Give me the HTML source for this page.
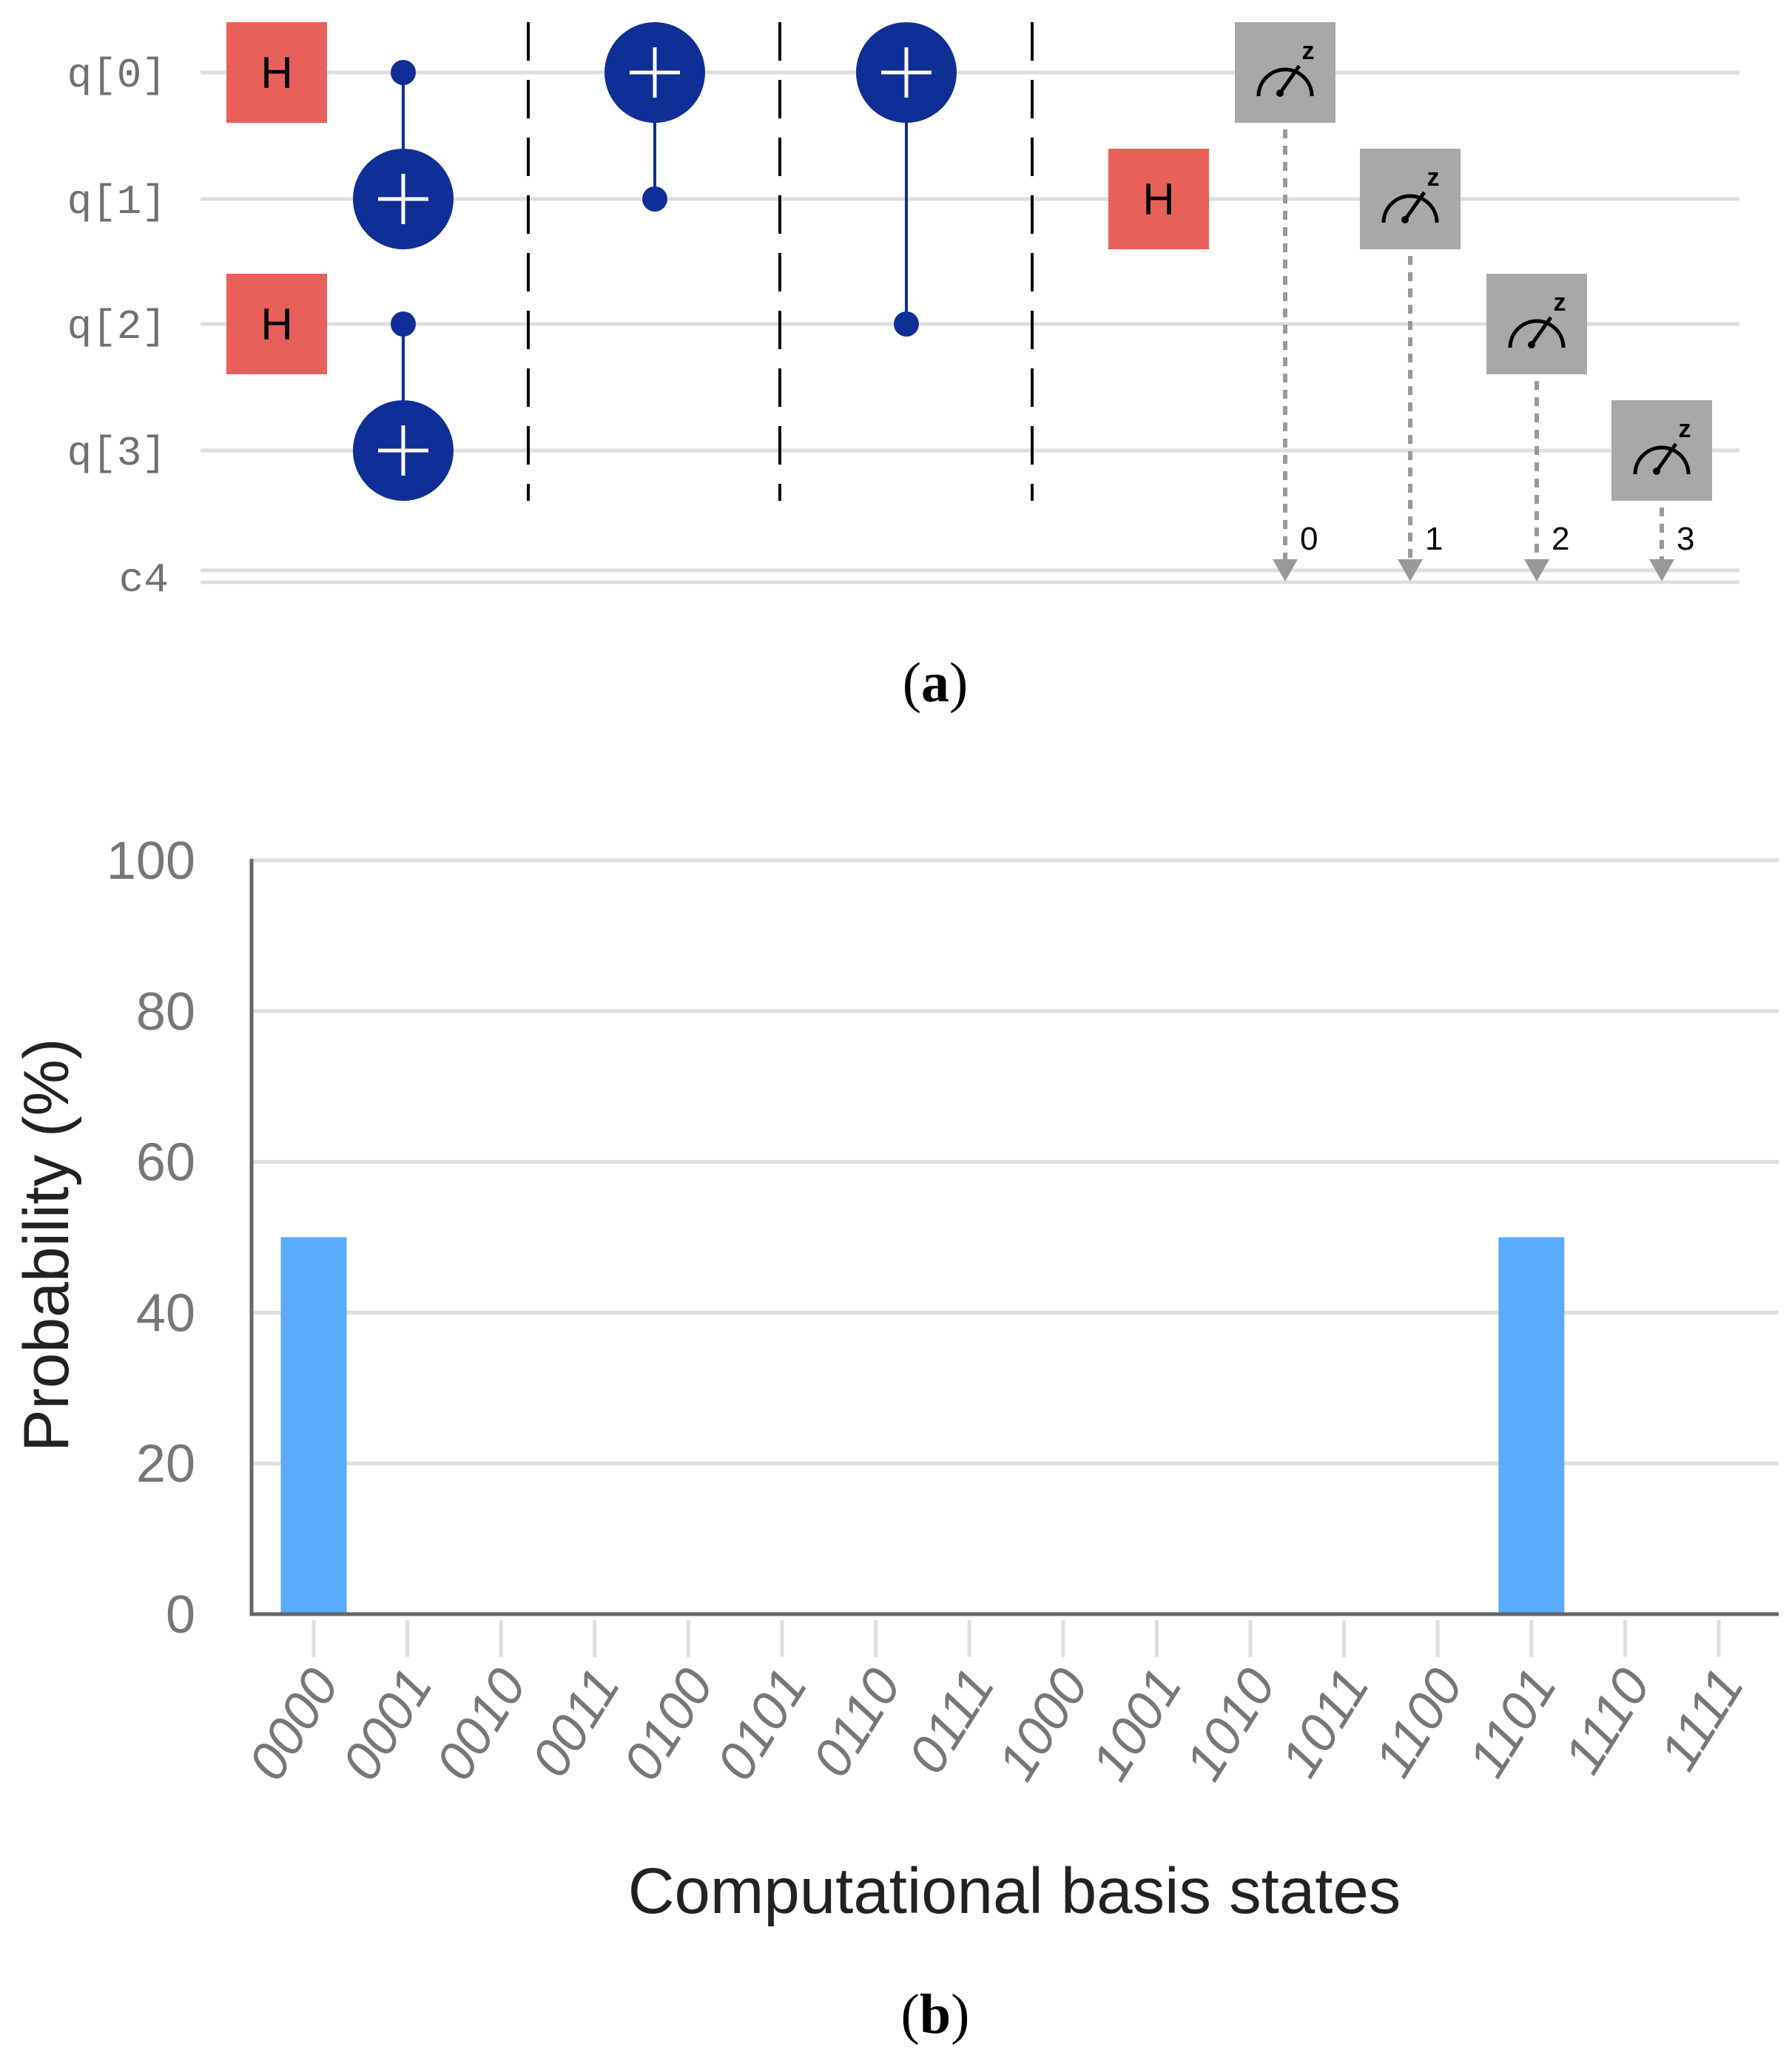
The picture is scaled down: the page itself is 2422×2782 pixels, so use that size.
<!DOCTYPE html>
<html><head><meta charset="utf-8"><style>
html,body{margin:0;padding:0;background:#fff;}
svg{display:block;}
</style></head><body>
<svg width="2422" height="2782" viewBox="0 0 2422 2782" xmlns="http://www.w3.org/2000/svg">
<g id="circuit"></g>
<text x="1264" y="948" text-anchor="middle" font-family="Liberation Serif, serif" font-size="76"><tspan>(</tspan><tspan font-weight="bold">a</tspan><tspan>)</tspan></text>
<g id="chart"></g>
<text x="1264" y="2748" text-anchor="middle" font-family="Liberation Serif, serif" font-size="76"><tspan>(</tspan><tspan font-weight="bold">b</tspan><tspan>)</tspan></text>
</svg>
<script>
const NS='http://www.w3.org/2000/svg';
function mk(parent,tag,attrs,text){const e=document.createElementNS(NS,tag);for(const k in attrs)e.setAttribute(k,attrs[k]);if(text!==undefined)e.textContent=text;parent.appendChild(e);return e;}

// ---------- Circuit ----------
const qubitLabels=['q[0]','q[1]','q[2]','q[3]'];
const wireY=[98,269,438,609];
const C=document.getElementById('circuit');
for(let i=0;i<4;i++){
  const w=mk(C,'line',{x1:271,x2:2351,y1:wireY[i],y2:wireY[i],stroke:'#dedede','stroke-width':5});
  
  
  const t=mk(C,'text',{x:225,y:wireY[i]+19,'text-anchor':'end','font-family':'Liberation Mono, monospace','font-size':56,fill:'#707070'},qubitLabels[i]);
  
  
}
[771,787].forEach(y=>{const l=mk(C,'line',{x1:271,x2:2351,y1:y,y2:y,stroke:'#dedede','stroke-width':5});
  
  });
const cl=mk(C,'text',{x:228,y:799,'text-anchor':'end','font-family':'Liberation Mono, monospace','font-size':56,fill:'#707070'},'c4');



function hgate(cx,q){const g=mk(C,'g',{});
  
  
  mk(g,'rect',{x:cx-68,y:wireY[q]-68,width:136,height:136,fill:'#e8605a'});
  mk(g,'text',{x:cx,y:wireY[q]+21,'text-anchor':'middle','font-family':'Liberation Sans, sans-serif','font-size':60,fill:'#000'},'H');}
function cnot(cx,c,t){const g=mk(C,'g',{});
  
  
  mk(g,'line',{x1:cx,x2:cx,y1:wireY[c],y2:wireY[t],stroke:'#0f2e96','stroke-width':4});
  mk(g,'circle',{cx:cx,cy:wireY[c],r:17,fill:'#0f2e96'});
  mk(g,'circle',{cx:cx,cy:wireY[t],r:68,fill:'#0f2e96'});
  mk(g,'line',{x1:cx-34,x2:cx+34,y1:wireY[t],y2:wireY[t],stroke:'#fff','stroke-width':5});
  mk(g,'line',{x1:cx,x2:cx,y1:wireY[t]-34,y2:wireY[t]+34,stroke:'#fff','stroke-width':5});}
hgate(374,0);hgate(374,2);hgate(1566,1);
cnot(545,0,1);cnot(545,2,3);cnot(885,1,0);cnot(1225,2,0);
[714,1054,1395].forEach(x=>{const b=mk(C,'line',{x1:x,x2:x,y1:30,y2:677,stroke:'#000','stroke-width':4,'stroke-dasharray':'52 26'});
  
  });
const measX=[1737,1906,2077,2246];
for(let q=0;q<4;q++){const cx=measX[q],cy=wireY[q];const g=mk(C,'g',{});
  
  
  mk(g,'rect',{x:cx-68,y:cy-68,width:136,height:136,fill:'#a8a8a8'});
  mk(g,'path',{d:`M${cx-36},${cy+32} A36,36 0 0 1 ${cx+36},${cy+32}`,fill:'none',stroke:'#000','stroke-width':5});
  mk(g,'line',{x1:cx-7,y1:cy+28,x2:cx+19,y2:cy-9,stroke:'#000','stroke-width':5});
  mk(g,'circle',{cx:cx-7,cy:cy+28,r:5,fill:'#000'});
  mk(g,'text',{x:cx+31,y:cy-18,'text-anchor':'middle','font-family':'Liberation Sans, sans-serif','font-size':34,'font-weight':'bold',fill:'#000'},'z');
  mk(g,'line',{x1:cx,x2:cx,y1:cy+77,y2:756,stroke:'#999','stroke-width':6,'stroke-dasharray':'12 10'});
  mk(g,'polygon',{points:`${cx-17},${756} ${cx+17},${756} ${cx},${786}`,fill:'#999'});
  mk(g,'text',{x:cx+20,y:743,'font-family':'Liberation Sans, sans-serif','font-size':44,fill:'#000'},String(q));}

// ---------- Chart ----------
const categories=['0000','0001','0010','0011','0100','0101','0110','0111','1000','1001','1010','1011','1100','1101','1110','1111'];
const probabilities=[50,0,0,0,0,0,0,0,0,0,0,0,0,50,0,0];
const yTicks=[0,20,40,60,80,100];
const G=document.getElementById('chart');
const plotL=340,plotR=2404,plotT=1163,plotB=2182,yMax=100;
const firstCenter=424,step=126.6;
const yS=v=>plotB-(v/yMax)*(plotB-plotT);
const xS=i=>firstCenter+i*step;
yTicks.forEach(v=>{
  if(v>0){const gl=mk(G,'line',{x1:plotL,x2:plotR,y1:yS(v),y2:yS(v),stroke:'#dedede','stroke-width':5});
    
    }
  const t=mk(G,'text',{x:264,y:yS(v)+25,'text-anchor':'end','font-family':'Liberation Sans, sans-serif','font-size':72,fill:'#777'},String(v));
  
  
});
categories.forEach((c,i)=>{
  const x=xS(i);
  const tk=mk(G,'line',{x1:x,x2:x,y1:plotB+8,y2:2240,stroke:'#dedede','stroke-width':5});
  
  
  if(probabilities[i]>0){
    const b=mk(G,'rect',{x:x-44.5,y:yS(probabilities[i]),width:89,height:plotB-yS(probabilities[i]),fill:'#5aabfb'});
    
    
  }
  const t=mk(G,'text',{x:0,y:0,'text-anchor':'end','font-family':'Liberation Sans, sans-serif','font-size':72,'font-style':'italic',fill:'#777',transform:`translate(${x+36},${2276}) rotate(-58)`},c);
  
  
});
const ax=mk(G,'path',{d:`M${plotL},${plotT-2} L${plotL},${plotB} L${plotR},${plotB}`,fill:'none',stroke:'#666','stroke-width':5});


const yt=mk(G,'text',{x:0,y:0,'text-anchor':'middle','font-family':'Liberation Sans, sans-serif','font-size':86,fill:'#222',transform:'translate(92,1683) rotate(-90)'},'Probability (%)');


const xt=mk(G,'text',{x:1371,y:2586,'text-anchor':'middle','font-family':'Liberation Sans, sans-serif','font-size':87,fill:'#222'},'Computational basis states');


</script>
</body></html>
